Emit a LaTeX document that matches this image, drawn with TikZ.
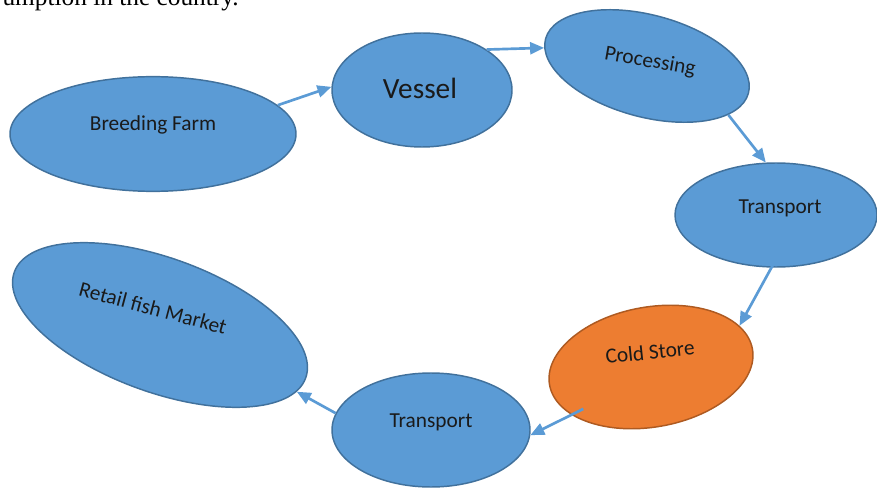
\documentclass[tikz,border=0pt]{standalone}
\usepackage{fontspec}
\setmainfont{Liberation Serif}
\newfontfamily\blobfont{Carlito}
\usetikzlibrary{shapes.geometric,arrows.meta}

\tikzset{every picture/.style={line width=0.75pt}}
\tikzset{
  blob/.style={ellipse, inner sep=0pt, line width=1.1pt,
    draw={rgb, 255:red, 65; green, 113; blue, 156 },
    fill={rgb, 255:red, 91; green, 155; blue, 213 }},
  hotblob/.style={blob,
    draw={rgb, 255:red, 174; green, 90; blue, 33 },
    fill={rgb, 255:red, 237; green, 125; blue, 49 }},
  flow/.style={draw={rgb, 255:red, 91; green, 155; blue, 213 }, line width=2pt,
    -{Triangle[length=10.5pt,width=9pt]}},
  txt/.style={inner sep=0.75pt, text={rgb, 255:red, 26; green, 26; blue, 26 },
    font=\blobfont\fontsize{16}{19}\selectfont}
}

\begin{document}
\begin{tikzpicture}[x=0.75pt,y=0.75pt,yscale=-1,xscale=1]
\useasboundingbox (0,0) rectangle (877,488);
\clip (0,0) rectangle (877,488);

% Text Node (cut off by the top edge)
\node (caption) at (2,6) [anchor=base west, inner sep=0pt, font=\fontsize{19}{22}\selectfont] {umption in the country.};

%Shape: Ellipse [farm]
\node (farm) at (153,134) [blob, minimum width=214.5pt, minimum height=86pt] {};
%Shape: Ellipse [vessel]
\node (vessel) at (422,90) [blob, minimum width=135pt, minimum height=85.5pt] {};
%Shape: Ellipse [processing]
\node (proc) at (647,66) [blob, rotate=-15, minimum width=157.5pt, minimum height=76.5pt] {};
%Shape: Ellipse [transport right]
\node (transR) at (776,215) [blob, minimum width=151.5pt, minimum height=78pt] {};
%Shape: Ellipse [cold store]
\node (cold) at (651,367) [hotblob, rotate=10, minimum width=154.5pt, minimum height=90pt] {};
%Shape: Ellipse [transport bottom]
\node (transB) at (431,430) [blob, minimum width=148.5pt, minimum height=85.5pt] {};
%Shape: Ellipse [retail]
\node (retail) at (160,325) [blob, rotate=-20, minimum width=232.5pt, minimum height=100.5pt] {};

% Text Node
\node (farmtxt) at (153,125) [txt] {Breeding Farm};
% Text Node
\node (vesseltxt) at (420,88) [txt, font=\blobfont\fontsize{22}{26}\selectfont] {Vessel};
% Text Node
\node (proctxt) at (650,62) [txt, rotate=-10] {Processing};
% Text Node
\node (transRtxt) at (780,208) [txt] {Transport};
% Text Node
\node (coldtxt) at (650,352) [txt, rotate=6] {Cold Store};
% Text Node
\node (transBtxt) at (431,422) [txt] {Transport};
% Text Node
\node (retailtxt) at (153,308) [txt, rotate=-15] {Retail fish Market};

%Arrows
\draw [flow] (farm.13) -- (vessel.178);
\draw [flow] (vessel.32) -- (proc.185);
\draw [flow] (proc.-16) -- (transR.101);
\draw [flow, shorten <=-3pt] (transR.-95) -- (cold.15);
\draw [flow, shorten <=-10pt] (cold.201) -- (transB.-3);
\draw [flow] (transB.170) -- (retail.-6);

\end{tikzpicture}
\end{document}
